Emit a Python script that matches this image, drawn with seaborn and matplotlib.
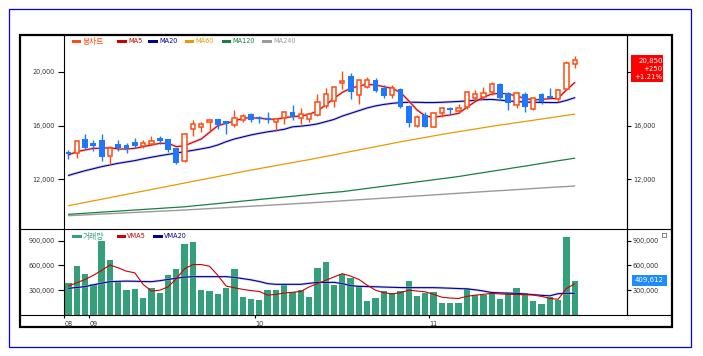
import numpy as np
import seaborn as sns
import matplotlib.pyplot as plt
from matplotlib.patches import Rectangle
from matplotlib.lines import Line2D

# daily candles, late Aug .. Nov (62 trading days)
opens = [14060, 13940, 15000, 14680, 14900, 13740, 14600, 14560, 14750, 14510,
         14650, 15050, 14980, 14310, 13370, 15740, 15910, 16240, 16460, 16330,
         16040, 16410, 16850, 16650, 16580, 16280, 16530, 17000, 16530, 16450,
         16800, 17450, 17830, 19120, 19640, 18290, 18860, 19370, 18780, 18280,
         18680, 17440, 15960, 16780, 15910, 16900, 17320, 17100, 17400, 18070,
         18140, 18500, 19040, 18410, 17500, 18320, 17200, 18360, 18200, 18000,
         18720, 20550]
highs = [14190, 14930, 15370, 14930, 15370, 14510, 14930, 14680, 15050, 14930,
         15220, 15220, 15000, 14360, 15420, 16410, 16280, 16480, 16460, 16330,
         17150, 16830, 16900, 16700, 16980, 16580, 17070, 17520, 17300, 16960,
         18300, 18750, 18830, 20030, 19900, 19370, 19590, 19540, 19000, 19000,
         18750, 17520, 16780, 17020, 17020, 17400, 17400, 17590, 18580, 18630,
         18830, 19250, 19120, 18500, 18500, 18500, 18140, 18380, 18750, 18680,
         20780, 21150]
lows = [13520, 13570, 14260, 14140, 13370, 13070, 14140, 13990, 14310, 14360,
        14560, 14600, 14060, 13120, 13320, 15250, 15540, 15540, 15740, 15370,
        15910, 16280, 16280, 16160, 16160, 15590, 16110, 16430, 16130, 16250,
        16700, 17300, 17350, 18700, 17950, 17580, 18750, 18500, 18010, 18010,
        17320, 15910, 15910, 15890, 15870, 16600, 16780, 16900, 17200, 17890,
        17940, 18260, 17890, 17150, 17270, 17030, 17150, 17590, 18010, 17770,
        18680, 20250]
closes = [13860, 14850, 14360, 14510, 13690, 14310, 14310, 14240, 14510, 14680,
          14850, 14850, 14190, 13200, 15350, 16090, 16090, 16410, 16040, 16110,
          16530, 16730, 16410, 16480, 16380, 16480, 17030, 16600, 16850, 16830,
          17730, 18350, 18820, 19310, 18510, 19340, 19350, 18560, 18220, 18750,
          17350, 16210, 16650, 15910, 16900, 17320, 17150, 17270, 18500, 18320,
          18380, 19060, 18010, 17700, 18410, 17400, 18010, 17770, 18050, 18630,
          20600, 20850]

ma5 = [13815, 14062, 14185, 14309, 14309, 14358, 14259, 14259, 14309, 14432,
       14556, 14679, 14679, 14432, 14506, 14753, 15000, 15494, 15988, 16161,
       16330, 16531, 16580, 16531, 16481, 16457, 16580, 16654, 16704, 16827,
       17074, 17518, 18012, 18457, 18753, 18926, 19049, 19000, 18877, 18753,
       18457, 17830, 17148, 16704, 16605, 16704, 16778, 16901, 17346, 17766,
       18086, 18333, 18383, 18333, 18185, 18012, 17889, 17938, 17988, 18012,
       18630, 19180]
ma20 = [12300, 12480, 12650, 12800, 12950, 13080, 13200, 13300, 13400, 13530,
        13650, 13760, 13860, 13960, 14060, 14160, 14270, 14380, 14560, 14800,
        15000, 15150, 15300, 15420, 15530, 15620, 15720, 15900, 15950, 16020,
        16120, 16280, 16450, 16700, 16900, 17100, 17300, 17450, 17560, 17640,
        17700, 17720, 17720, 17700, 17700, 17720, 17750, 17780, 17820, 17870,
        17920, 17930, 17880, 17820, 17770, 17740, 17720, 17710, 17700, 17700,
        17860, 18060]
ma60 = [10060, 10180, 10300, 10420, 10540, 10660, 10780, 10900, 11020, 11140,
        11260, 11380, 11500, 11620, 11740, 11860, 11980, 12100, 12220, 12340,
        12460, 12580, 12700, 12810, 12920, 13030, 13140, 13250, 13360, 13470,
        13590, 13710, 13830, 13950, 14070, 14190, 14310, 14430, 14550, 14670,
        14790, 14900, 15010, 15120, 15230, 15340, 15440, 15540, 15640, 15740,
        15840, 15940, 16030, 16120, 16210, 16300, 16390, 16480, 16570, 16660,
        16750, 16840]
ma120 = [9420, 9460, 9500, 9540, 9580, 9620, 9660, 9700, 9740, 9780,
         9820, 9860, 9900, 9940, 9980, 10040, 10100, 10160, 10220, 10280,
         10340, 10400, 10460, 10520, 10580, 10640, 10700, 10760, 10820, 10880,
         10940, 11000, 11050, 11100, 11180, 11260, 11340, 11420, 11500, 11580,
         11660, 11740, 11820, 11900, 11980, 12060, 12140, 12220, 12320, 12420,
         12510, 12610, 12700, 12800, 12900, 12990, 13090, 13190, 13290, 13390,
         13480, 13580]
ma240 = [9320, 9350, 9380, 9410, 9440, 9470, 9500, 9530, 9560, 9590,
         9620, 9650, 9680, 9710, 9740, 9775, 9810, 9845, 9880, 9915,
         9950, 9985, 10020, 10055, 10090, 10125, 10160, 10195, 10230, 10265,
         10300, 10340, 10380, 10420, 10460, 10500, 10540, 10580, 10620, 10660,
         10700, 10740, 10780, 10820, 10860, 10900, 10940, 10980, 11020, 11060,
         11100, 11140, 11175, 11210, 11250, 11290, 11330, 11370, 11410, 11445,
         11480, 11520]

volumes = [391000, 593000, 496000, 375000, 899000, 669000, 403000, 302000, 315000, 210000,
           331000, 270000, 484000, 556000, 859000, 883000, 302000, 290000, 254000, 327000,
           556000, 222000, 194000, 181000, 302000, 302000, 363000, 282000, 302000, 222000,
           569000, 641000, 363000, 496000, 448000, 351000, 169000, 206000, 290000, 266000,
           290000, 411000, 230000, 266000, 278000, 145000, 145000, 145000, 327000, 242000,
           242000, 266000, 194000, 266000, 327000, 266000, 169000, 133000, 218000, 181000,
           943000, 409612]
vma5 = [351, 390, 430, 480, 540, 605, 570, 530, 510, 370,
        290, 300, 340, 440, 560, 610, 610, 590, 480, 350,
        330, 310, 295, 285, 240, 250, 265, 275, 285, 340,
        380, 420, 460, 500, 470, 430, 360, 300, 270, 255,
        270, 300, 290, 280, 250, 215, 205, 200, 225, 240,
        250, 262, 255, 250, 248, 245, 242, 225, 200, 190,
        320, 377]
vma20 = [323, 333, 343, 365, 385, 403, 407, 410, 408, 405,
         403, 415, 430, 445, 458, 464, 464, 464, 464, 464,
         455, 440, 425, 405, 380, 371, 371, 371, 371, 383,
         395, 393, 395, 380, 355, 347, 344, 342, 338, 335,
         332, 331, 331, 331, 331, 328, 324, 320, 316, 305,
         290, 272, 268, 265, 262, 254, 246, 238, 232, 258,
         262, 262]

month_pos = [-0.5, 2.5, 22.5, 43.5]
month_labels = ['08', '09', '10', '11']
price_ticks = [12000, 16000, 20000]
vol_ticks = [300000, 600000, 900000]

last_close = '20,850'
last_change = '+250'
last_pct = '+1.21%'

UP = '#FF4A12'
DOWN = '#1E78FF'
VOLC = '#34A07A'
C_MA5 = '#CC0000'
C_MA20 = '#000099'
C_MA60 = '#E89A00'
C_MA120 = '#1A8040'
C_MA240 = '#9A9A9A'

sns.set_theme(style='white')
plt.rcParams['font.family'] = ['DejaVu Sans', 'Noto Sans CJK KR']

W, H = 703, 356
fig = plt.figure(figsize=(W / 100, H / 100), dpi=100)


def fx(x):
    return x / W


def fy(y):
    return 1 - y / H


xl, xr = 64.3, 627.0
ax_p = fig.add_axes([fx(xl), fy(229.3), fx(xr) - fx(xl), fy(35) - fy(229.3)])
ax_v = fig.add_axes([fx(xl), fy(315), fx(xr) - fx(xl), fy(229.3) - fy(315)])

idx = np.arange(len(closes))

# moving averages (soft halo under the short ones, like the original)
sns.lineplot(x=idx, y=ma240, ax=ax_p, color=C_MA240, lw=1.0, legend=False)
sns.lineplot(x=idx, y=ma120, ax=ax_p, color=C_MA120, lw=0.9, legend=False)
sns.lineplot(x=idx, y=ma60, ax=ax_p, color=C_MA60, lw=0.9, legend=False)
sns.lineplot(x=idx, y=ma20, ax=ax_p, color='#B0B0DD', lw=2.0, alpha=0.6, legend=False)
sns.lineplot(x=idx, y=ma20, ax=ax_p, color=C_MA20, lw=0.8, legend=False)
sns.lineplot(x=idx, y=ma5, ax=ax_p, color='#EBA0B0', lw=2.0, alpha=0.6, legend=False)
sns.lineplot(x=idx, y=ma5, ax=ax_p, color=C_MA5, lw=0.8, legend=False)

# candles
o = np.array(opens, dtype=float)
c = np.array(closes, dtype=float)
up = c >= o
ax_p.vlines(idx, lows, highs, colors=np.where(up, UP, DOWN), lw=1.0, zorder=3)
bottom = np.minimum(o, c)
height = np.maximum(np.abs(c - o), 25)
ax_p.bar(idx[up], height[up], bottom=bottom[up], width=0.52, facecolor='white',
         edgecolor=UP, linewidth=1.1, zorder=4)
ax_p.bar(idx[~up], height[~up], bottom=bottom[~up], width=0.7, color=DOWN,
         linewidth=0, zorder=4)

# volume
sns.barplot(x=idx, y=volumes, ax=ax_v, native_scale=True, color=VOLC, saturation=1,
            width=0.76, errorbar=None, linewidth=0)
sns.lineplot(x=idx, y=np.array(vma20) * 1000, ax=ax_v, color='#B0B0DD', lw=1.8, alpha=0.6, legend=False)
sns.lineplot(x=idx, y=np.array(vma20) * 1000, ax=ax_v, color=C_MA20, lw=0.8, legend=False)
sns.lineplot(x=idx, y=np.array(vma5) * 1000, ax=ax_v, color=C_MA5, lw=0.8, legend=False)

for ax in (ax_p, ax_v):
    ax.set_xlim(-0.5, 67.3)
    ax.set_xlabel('')
    ax.set_ylabel('')
    ax.set_facecolor('white')
    for side in ('top', 'bottom'):
        ax.spines[side].set_visible(False)
    for side in ('left', 'right'):
        ax.spines[side].set_visible(True)
        ax.spines[side].set_color('black')
        ax.spines[side].set_linewidth(0.8)

ax_p.set_ylim(8311, 22704)
ax_v.set_ylim(0, 1036700)
ax_p.set_xticks([])

tick_kw = dict(direction='out', width=0.8, color='black', labelcolor='#333333', labelsize=4.7)

ax_p.set_yticks(price_ticks, [f'{t:,}' for t in price_ticks])
ax_p.tick_params(axis='y', left=True, right=False, length=4, pad=3, **tick_kw)
ax_pr = ax_p.twinx()
ax_pr.set_ylim(ax_p.get_ylim())
# the top right label sits under the last-price box, so it stays blank
ax_pr.set_yticks(price_ticks, [f'{t:,}' for t in price_ticks[:-1]] + [''])
ax_pr.tick_params(axis='y', right=True, length=3.1, pad=1.2, **tick_kw)

ax_v.set_yticks(vol_ticks, [f'{t:,}' for t in vol_ticks])
ax_v.tick_params(axis='y', left=True, right=False, length=4, pad=3, **tick_kw)
ax_vr = ax_v.twinx()
ax_vr.set_ylim(ax_v.get_ylim())
ax_vr.set_yticks(vol_ticks, [f'{t:,}' for t in vol_ticks])
ax_vr.tick_params(axis='y', right=True, length=3.1, pad=1.2, **tick_kw)

for ax in (ax_pr, ax_vr):
    for side in ('top', 'bottom', 'left'):
        ax.spines[side].set_visible(False)
    ax.spines['right'].set_linewidth(0.8)
    ax.spines['right'].set_color('black')
    ax.grid(False)
ax_p.grid(False)
ax_v.grid(False)

ax_v.set_xticks(month_pos, month_labels)
ax_v.tick_params(axis='x', bottom=True, length=2.5, pad=2, **tick_kw)
for lab in ax_v.get_xticklabels():
    lab.set_ha('left')

# outer frames and full-width separators
fig.add_artist(Rectangle((fx(9), fy(347)), fx(691) - fx(9), fy(9) - fy(347),
                         transform=fig.transFigure, fill=False, ec='#0000FF', lw=0.9))
fig.add_artist(Rectangle((fx(20), fy(327)), fx(672) - fx(20), fy(35) - fy(327),
                         transform=fig.transFigure, fill=False, ec='black', lw=1.6))
for yy in (229.3, 315):
    fig.add_artist(Line2D([fx(20), fx(672)], [fy(yy), fy(yy)], transform=fig.transFigure,
                          color='black', lw=0.8))

# legends
price_legend = [(72.3, 81.3, '봉차트', UP), (117.3, 126.7, 'MA5', C_MA5),
                (148.3, 158.3, 'MA20', C_MA20), (185, 194.3, 'MA60', C_MA60),
                (221.7, 230.7, 'MA120', C_MA120), (262.3, 271.7, 'MA240', C_MA240)]
vol_legend = [(72.3, 81.7, '거래량', VOLC), (116.7, 126, 'VMA5', C_MA5),
              (153.3, 162.7, 'VMA20', C_MA20)]
for items, yc in ((price_legend, 41.3), (vol_legend, 236.5)):
    for r0, r1, label, col in items:
        fig.add_artist(Rectangle((fx(r0), fy(yc + 1.7)), fx(r1) - fx(r0), fy(yc - 1.7) - fy(yc + 1.7),
                                 transform=fig.transFigure, color=col, lw=0))
        size = 5.6 if label[0] > '\u1100' else 4.7
        fig.text(fx(r1 + 1.2), fy(yc), label, color=col, fontsize=size, va='center', ha='left')

# last price box
fig.add_artist(Rectangle((fx(631), fy(81.7)), fx(663.3) - fx(631), fy(55) - fy(81.7),
                         transform=fig.transFigure, color='#FF0000', lw=0))
for yy, txt in ((60.8, last_close), (68.8, last_change), (76.8, last_pct)):
    fig.text(fx(662.6), fy(yy), txt, color='white', fontsize=5, ha='right', va='center')

# last volume box
fig.add_artist(Rectangle((fx(631.7), fy(285.7)), fx(666.7) - fx(631.7), fy(275) - fy(285.7),
                         transform=fig.transFigure, color='#1E8CFF', lw=0))
fig.text(fx(649.2), fy(280.4), f'{volumes[-1]:,}', color='white', fontsize=5, ha='center', va='center')

# tiny panel icon
fig.add_artist(Rectangle((fx(661.5), fy(236.5)), fx(666) - fx(661.5), fy(232.5) - fy(236.5),
                         transform=fig.transFigure, fill=False, ec='#555555', lw=0.5))

fig.savefig('out.png', dpi=100)
